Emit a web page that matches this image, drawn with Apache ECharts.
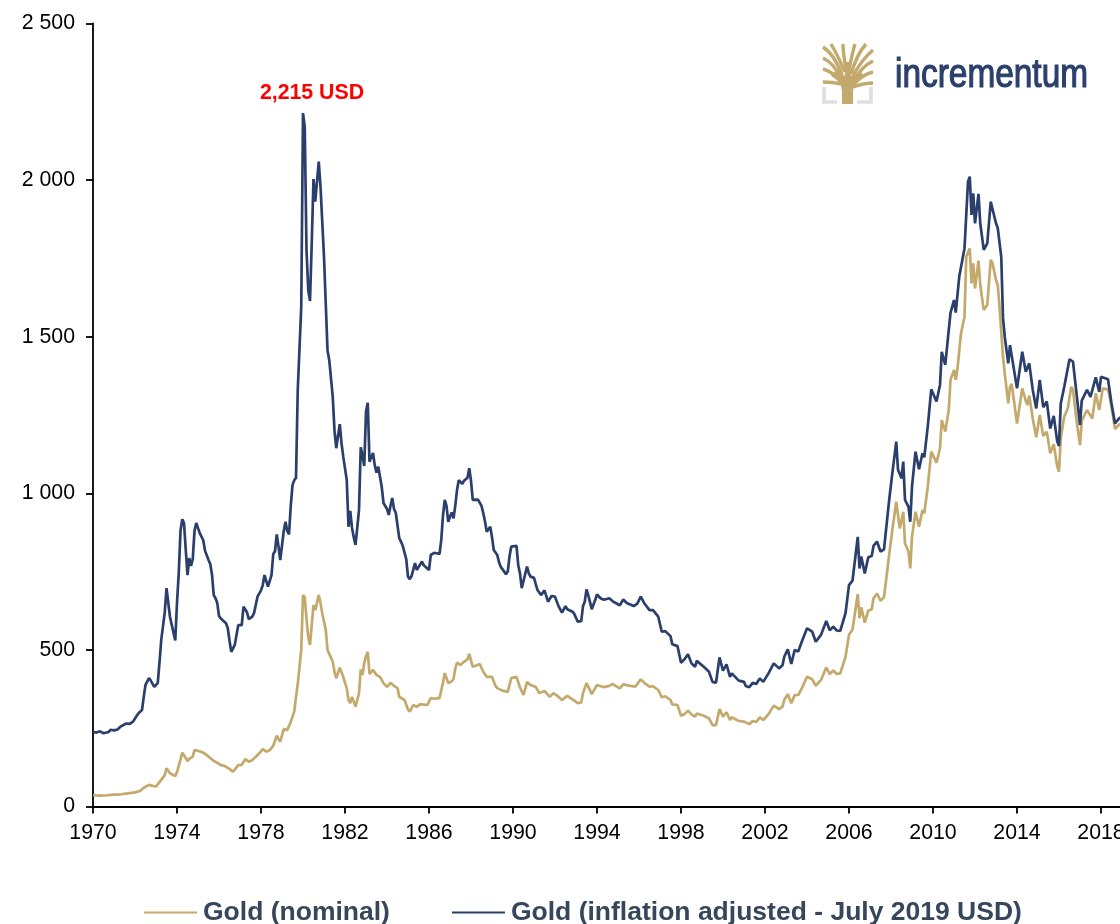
<!DOCTYPE html>
<html><head><meta charset="utf-8">
<style>html,body{margin:0;padding:0;background:#fff;overflow:hidden}#c{width:1120px;height:924px}</style>
<script src="https://cdn.jsdelivr.net/npm/echarts@6/dist/echarts.min.js"></script>
</head><body><div id="c"></div>
<script>
// [months since Jan 1970, USD/oz]
const nominal = [[0,36],[4,35],[8,36],[12,38],[16,39],[20,42],[24,45],[27,50],[28,53],[29,60],[30,66],[32,69],[34,66],[36,64],[37,66],[39,85],[41,100],[42,122],[43,120],[44,106],[45,103],[47,97],[48,110],[50,150],[51,172],[52,170],[54,145],[55,152],[57,159],[58,180],[59,184],[60,178],[61,180],[63,172],[65,164],[67,155],[69,145],[71,140],[73,132],[75,130],[76,127],[78,120],[80,111],[81,118],[83,132],[85,133],[87,151],[89,143],[91,148],[93,159],[95,170],[97,183],[99,175],[101,180],[103,194],[105,226],[106,215],[107,207],[109,247],[111,244],[113,270],[115,303],[116,350],[117,391],[118,395],[119,500],[120,675],[121,668],[122,600],[123,542],[124,516],[125,520],[126,643],[127,627],[129,675],[130,650],[131,617],[133,564],[134,500],[135,498],[137,462],[138,430],[139,410],[140,412],[141,443],[143,414],[144,395],[145,378],[146,340],[147,330],[148,350],[149,335],[150,319],[151,340],[152,361],[153,438],[154,420],[155,458],[156,480],[157,494],[158,423],[160,436],[162,420],[164,414],[166,394],[168,382],[170,395],[172,385],[174,378],[175,350],[176,345],[178,340],[180,310],[181,303],[183,324],[185,318],[187,327],[189,325],[191,324],[193,346],[195,344],[198,346],[200,395],[201,426],[202,410],[203,394],[205,400],[206,407],[207,440],[208,459],[210,452],[212,462],[214,470],[215,487],[217,446],[219,450],[221,455],[223,430],[225,414],[228,414],[230,385],[231,378],[234,370],[237,366],[239,410],[242,414],[244,380],[246,356],[248,397],[250,388],[253,382],[255,362],[258,369],[261,350],[263,362],[265,355],[268,340],[271,353],[274,342],[277,330],[279,332],[280,362],[282,394],[285,359],[288,388],[292,381],[295,385],[297,391],[301,377],[303,390],[307,385],[310,383],[313,406],[315,395],[318,383],[320,384],[323,372],[325,349],[327,352],[330,340],[331,326],[334,324],[336,290],[338,295],[340,306],[342,294],[344,287],[345,297],[349,290],[352,281],[354,260],[356,260],[358,311],[360,287],[362,301],[364,276],[365,285],[369,273],[372,271],[373,266],[375,263],[377,273],[379,270],[381,285],[383,276],[386,295],[387,297],[389,322],[392,311],[394,319],[395,340],[397,359],[399,330],[401,356],[403,356],[405,377],[408,414],[411,406],[413,385],[416,404],[419,444],[421,423],[423,434],[425,423],[427,425],[430,478],[432,548],[434,565],[437,678],[438,601],[439,636],[441,587],[443,625],[445,630],[446,665],[448,680],[450,657],[452,668],[455,806],[456,810],[457,893],[459,973],[461,888],[462,888],[463,941],[464,840],[466,814],[467,760],[468,861],[470,941],[472,893],[474,947],[475,936],[477,1021],[479,1133],[480,1138],[482,1098],[484,1144],[485,1234],[487,1197],[489,1266],[490,1362],[492,1394],[493,1362],[494,1399],[496,1511],[498,1564],[499,1755],[501,1782],[502,1670],[503,1734],[504,1654],[505,1660],[506,1743],[507,1665],[509,1585],[511,1601],[513,1745],[514,1735],[516,1681],[517,1665],[518,1596],[520,1436],[521,1383],[523,1287],[524,1340],[525,1349],[528,1223],[531,1335],[533,1295],[534,1282],[535,1312],[537,1239],[539,1179],[541,1250],[543,1183],[545,1197],[547,1128],[549,1157],[551,1085],[552,1069],[553,1176],[555,1245],[557,1271],[559,1340],[560,1330],[562,1234],[564,1154],[565,1232],[568,1266],[571,1239],[573,1319],[575,1266],[577,1335],[580,1332],[582,1276],[584,1205],[587,1223]];
const adjusted = [[0,238],[2,236],[4,240],[6,234],[7,233],[9,238],[10,245],[12,243],[14,246],[16,256],[17,253],[19,265],[21,264],[23,272],[25,290],[26,298],[28,308],[29,350],[30,388],[32,410],[33,402],[35,382],[37,394],[38,460],[39,532],[41,620],[42,697],[43,695],[44,605],[45,580],[47,530],[48,650],[49,745],[50,880],[51,917],[52,905],[53,820],[54,739],[55,793],[56,768],[57,790],[58,880],[59,905],[60,906],[61,873],[62,867],[63,850],[64,817],[66,787],[67,774],[68,740],[69,675],[70,665],[71,650],[72,608],[73,600],[74,606],[76,585],[77,570],[78,530],[79,494],[80,505],[81,516],[83,579],[85,579],[86,638],[87,640],[88,620],[89,598],[91,606],[92,617],[94,670],[95,665],[96,690],[97,707],[98,739],[99,720],[100,702],[102,739],[103,806],[104,815],[105,869],[106,830],[107,787],[108,785],[109,880],[110,909],[111,880],[112,869],[113,960],[114,1026],[115,1042],[116,1049],[117,1330],[118,1324],[119,1596],[120,2214],[121,2170],[122,1777],[123,1649],[124,1614],[125,1800],[126,2003],[127,1931],[129,2059],[130,1979],[132,1755],[134,1457],[135,1425],[137,1308],[138,1200],[139,1144],[140,1150],[141,1221],[142,1160],[143,1117],[145,1042],[146,893],[147,944],[148,890],[149,860],[150,835],[151,890],[152,947],[153,1147],[154,1120],[155,1087],[156,1261],[157,1289],[158,1101],[159,1115],[160,1129],[161,1090],[162,1066],[163,1085],[164,1053],[165,1020],[166,969],[167,975],[168,950],[169,931],[170,960],[171,985],[172,950],[173,938],[174,934],[175,857],[176,846],[177,832],[178,828],[179,790],[180,734],[181,726],[182,735],[184,777],[185,755],[186,757],[188,782],[189,770],[190,766],[192,755],[193,803],[194,800],[195,810],[196,805],[198,806],[199,851],[200,930],[201,979],[202,960],[203,909],[204,925],[205,939],[206,920],[207,960],[208,1010],[209,1042],[210,1045],[211,1030],[212,1040],[214,1050],[215,1080],[216,1040],[217,979],[218,975],[220,980],[221,985],[222,960],[223,937],[224,910],[225,877],[226,885],[227,893],[228,860],[229,819],[230,815],[231,803],[232,780],[233,765],[234,771],[236,742],[237,750],[238,798],[239,830],[240,828],[242,832],[243,770],[244,744],[245,697],[246,720],[248,766],[249,745],[250,734],[252,730],[253,710],[254,691],[256,675],[258,690],[259,693],[260,654],[261,660],[262,672],[264,670],[265,655],[266,640],[268,619],[269,625],[270,640],[271,630],[272,628],[274,622],[275,615],[277,590],[279,592],[280,640],[281,654],[282,693],[283,675],[285,630],[286,645],[287,660],[288,677],[290,665],[292,660],[295,665],[297,655],[299,649],[301,642],[302,640],[303,661],[305,650],[307,645],[309,640],[311,648],[313,670],[315,649],[318,627],[320,627],[323,606],[325,558],[327,560],[330,544],[331,518],[334,512],[336,459],[338,470],[340,486],[342,457],[344,446],[345,465],[349,446],[352,430],[354,398],[356,395],[358,476],[360,434],[362,454],[364,414],[365,425],[369,402],[372,398],[373,385],[375,381],[377,395],[379,391],[381,409],[383,398],[386,425],[387,427],[389,457],[392,441],[394,451],[395,478],[397,502],[399,455],[401,500],[403,495],[405,526],[408,569],[411,558],[413,526],[416,548],[419,592],[421,563],[423,574],[425,562],[427,561],[430,617],[432,707],[434,721],[437,861],[438,760],[439,798],[441,744],[443,796],[445,800],[446,832],[448,846],[450,814],[452,821],[455,981],[456,985],[457,1075],[459,1165],[460,1075],[462,1048],[463,1101],[464,979],[466,957],[467,909],[468,1021],[470,1133],[472,1077],[474,1128],[475,1115],[477,1213],[479,1332],[480,1335],[482,1293],[484,1346],[485,1452],[487,1410],[489,1521],[490,1576],[492,1617],[493,1577],[495,1692],[498,1782],[500,1995],[501,2011],[502,1889],[503,1958],[504,1862],[505,1862],[506,1956],[507,1862],[509,1777],[511,1798],[513,1931],[514,1925],[516,1862],[517,1847],[519,1755],[520,1560],[521,1500],[523,1415],[524,1473],[525,1479],[528,1335],[531,1452],[533,1388],[534,1385],[535,1415],[537,1330],[539,1271],[541,1362],[543,1275],[545,1293],[547,1207],[549,1247],[551,1165],[552,1151],[553,1287],[555,1340],[556,1345],[558,1428],[560,1420],[562,1319],[564,1218],[565,1296],[568,1330],[570,1308],[573,1370],[575,1324],[576,1372],[580,1364],[582,1287],[584,1223],[587,1243]];
const yTicks = [0,500,1000,1500,2000,2500];
const peakLabel = '2,215 USD';
const nominalName = 'Gold (nominal)';
const adjustedName = 'Gold (inflation adjusted - July 2019 USD)';

const GOLD='#C4A96C', NAVY='#2B3F6C', FONT='"Liberation Sans",Arial,sans-serif';
// logo branches: x1,y1,cpx,cpy,x2,y2
const logoBranches=[[823,47,836,56,843,78],[823,58,834,63,842,80],[823,69,832,71,841,82],[823,82,832,82,842,84],[831,44,837,54,845,72],[843,44,843,54,846,68],[855,44,852,54,849,70],[866,44,857,54,851,74],[873,50,861,60,852,78],[873,61,862,66,853,82],[873,72,863,74,853,85],[873,83,864,83,853,87]];
const logoGraphics=logoBranches.map(b=>({type:'bezierCurve',silent:true,
  shape:{x1:b[0],y1:b[1],cpx1:b[2],cpy1:b[3],x2:b[4],y2:b[5]},
  style:{fill:null,stroke:GOLD,lineWidth:3.4}}));
const chart=echarts.init(document.getElementById('c'),null,{renderer:'canvas'});
chart.setOption({
  animation:false,
  backgroundColor:'#fff',
  grid:{left:93,top:23.5,width:1039.5,height:783,outerBoundsMode:'none',containLabel:false},
  xAxis:{type:'value',min:0,max:594,interval:48,
    axisLine:{onZero:false,lineStyle:{color:'#000',width:1.8}},
    axisTick:{length:7,lineStyle:{color:'#000',width:1.8}},
    splitLine:{show:false},
    axisLabel:{margin:16,fontFamily:FONT,fontSize:21.3,color:'#000',showMaxLabel:true,hideOverlap:false,
      formatter:v=>v%48===0?String(1970+v/12):''}},
  yAxis:{type:'value',min:0,max:2500,interval:500,
    axisLine:{show:true,onZero:false,lineStyle:{color:'#000',width:1.8}},
    axisTick:{show:true,length:7,lineStyle:{color:'#000',width:1.8}},
    splitLine:{show:false},
    axisLabel:{margin:18,fontFamily:FONT,fontSize:21.3,color:'#000',padding:[2,0,0,0],
      formatter:v=>yTicks.includes(v)?String(v).replace(/\B(?=(\d{3})+$)/,' '):''}},
  legend:{left:144,top:899,padding:0,itemWidth:53,itemHeight:2,itemGap:62,icon:'rect',
    textStyle:{fontFamily:FONT,fontSize:26.5,fontWeight:'bold',color:'#36475C',padding:[0,0,0,1]},
    data:[nominalName,adjustedName]},
  series:[
    {name:nominalName,type:'line',data:nominal,showSymbol:false,symbol:'none',
     lineStyle:{color:GOLD,width:2.7},itemStyle:{color:GOLD},z:2},
    {name:adjustedName,type:'line',data:adjusted,showSymbol:false,symbol:'none',
     lineStyle:{color:NAVY,width:2.7},itemStyle:{color:NAVY},z:3,
     markPoint:{symbol:'circle',symbolSize:0,silent:true,
       data:[{coord:[120,2214],value:2214}],
       label:{show:true,position:'inside',offset:[9,-20],formatter:peakLabel,
         fontFamily:FONT,fontSize:21.3,fontWeight:'bold',color:'#FF0000'}}}
  ],
  graphic:[
    {type:'polygon',silent:true,shape:{points:[[842,104],[853,104],[853,92],[854,85],[859,80],[864,76],[860,71],[856,75],[851,76],[850,62],[845,62],[845,76],[840,75],[835,71],[831,76],[837,80],[841,85],[842,92]]},style:{fill:GOLD}},
    ...logoGraphics,
    {type:'polyline',silent:true,shape:{points:[[824,87],[824,102],[837,102]]},style:{fill:null,stroke:'#DEDEDE',lineWidth:3.6}},
    {type:'polyline',silent:true,shape:{points:[[871,87],[871,102],[857,102]]},style:{fill:null,stroke:'#DEDEDE',lineWidth:3.6}},
    {type:'text',silent:true,x:895,y:76,scaleX:0.835,style:{text:'incrementum',fill:NAVY,stroke:NAVY,lineWidth:1.2,font:'40px "Liberation Sans",Arial,sans-serif',verticalAlign:'middle',align:'left'}}
  ]
});
</script></body></html>
